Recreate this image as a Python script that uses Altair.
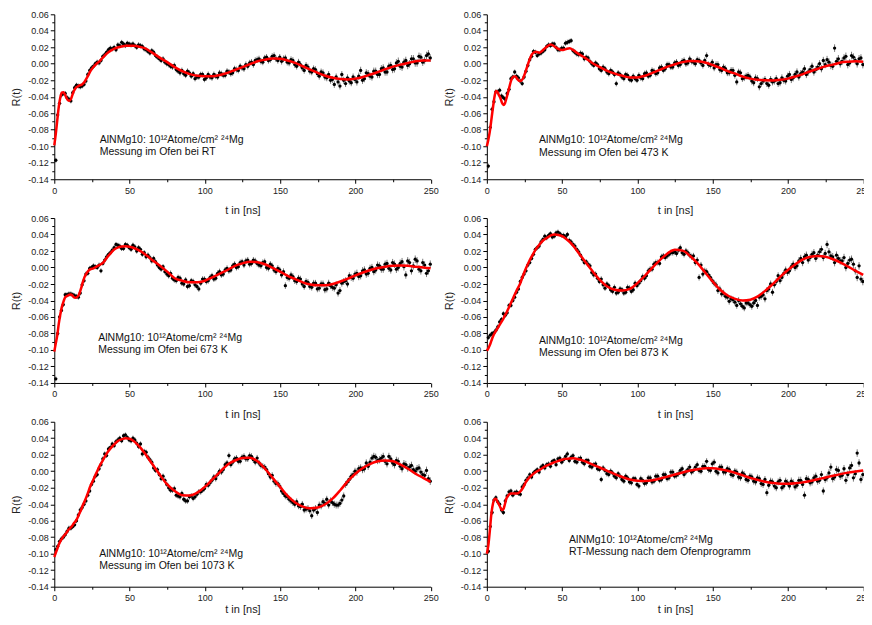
import altair as alt
import pandas as pd

# ---------------- data ----------------
# measurement channels (two interleaved sets of time bins, ns)
T_DATA = [1, 3.5, 6, 8.5, 11, 13.5, 16, 18.5, 21, 23.5,
          26, 28.5, 31, 33.5, 36, 38.5, 41, 43.5, 46, 48.5,
          51, 53.5, 56, 58.5, 61, 63.5, 66, 68.5, 71, 73.5,
          76, 78.5, 81, 83.5, 86, 88.5, 91, 93.5, 96, 98.5,
          101, 103.5, 106, 108.5, 111, 113.5, 116, 118.5, 121, 123.5,
          126, 128.5, 131, 133.5, 136, 138.5, 141, 143.5, 146, 148.5,
          151, 153.5, 156, 158.5, 161, 163.5, 166, 168.5, 171, 173.5,
          176, 178.5, 181, 183.5, 186, 188.5, 191, 193.5, 196, 198.5,
          201, 203.5, 206, 208.5, 211, 213.5, 216, 218.5, 221, 223.5,
          226, 228.5, 231, 233.5, 236, 238.5, 241, 243.5, 246, 248.5]
T_DATA_B = [2.25, 4.75, 7.25, 9.75, 12.25, 14.75, 17.25, 19.75, 22.25, 24.75,
            27.25, 29.75, 32.25, 34.75, 37.25, 39.75, 42.25, 44.75, 47.25, 49.75,
            52.25, 54.75, 57.25, 59.75, 62.25, 64.75, 67.25, 69.75, 72.25, 74.75,
            77.25, 79.75, 82.25, 84.75, 87.25, 89.75, 92.25, 94.75, 97.25, 99.75,
            102.25, 104.75, 107.25, 109.75, 112.25, 114.75, 117.25, 119.75, 122.25, 124.75,
            127.25, 129.75, 132.25, 134.75, 137.25, 139.75, 142.25, 144.75, 147.25, 149.75,
            152.25, 154.75, 157.25, 159.75, 162.25, 164.75, 167.25, 169.75, 172.25, 174.75,
            177.25, 179.75, 182.25, 184.75, 187.25, 189.75, 192.25, 194.75, 197.25, 199.75,
            202.25, 204.75, 207.25, 209.75, 212.25, 214.75, 217.25, 219.75, 222.25, 224.75,
            227.25, 229.75, 232.25, 234.75, 237.25, 239.75, 242.25, 244.75, 247.25, 249.75]

# error bar half-width per 25 ns block
ERR_BLOCK = [0.003, 0.003, 0.0032, 0.0034, 0.0036, 0.0038, 0.004, 0.0042, 0.0044, 0.0046]

T_FIT = [0, 1, 2, 3, 4, 5, 6, 7, 8, 9, 10, 11, 12, 13, 14, 15, 16, 17, 18, 19, 20,
         22, 24, 26, 28, 30,
         32.5, 35, 37.5, 40, 42.5, 45, 47.5, 50, 52.5, 55, 57.5, 60,
         65, 70, 75, 80, 85, 90, 95, 100,
         105, 110, 115, 120, 125, 130, 135, 140, 145, 150,
         155, 160, 165, 170, 175, 180, 185, 190, 195, 200,
         205, 210, 215, 220, 225, 230, 235, 240, 245, 250]

# ---- panel 1: RT ----
DATA_RT = [-0.117, -0.048, -0.036, -0.041, -0.045, -0.029, -0.027, -0.027, -0.021, -0.008,
           -0.003, 0.002, 0.004, 0.011, 0.017, 0.018, 0.017, 0.022, 0.024, 0.025,
           0.023, 0.022, 0.023, 0.021, 0.017, 0.013, 0.014, 0.008, 0.004, 0.002,
           -0.001, -0.004, -0.007, -0.011, -0.012, -0.009, -0.015, -0.018, -0.016, -0.013,
           -0.017, -0.016, -0.013, -0.016, -0.012, -0.014, -0.010, -0.011, -0.007, -0.003,
           -0.006, -0.003, 0.002, 0.004, 0.006, 0.002, 0.008, 0.005, 0.010, 0.004,
           0.003, 0.007, 0.001, 0.004, -0.003, -0.001, -0.008, -0.004, -0.010, -0.007,
           -0.015, -0.011, -0.017, -0.020, -0.025, -0.022, -0.013, -0.024, -0.021, -0.016,
           -0.022, -0.008, -0.018, -0.012, -0.016, -0.009, -0.013, -0.005, -0.010, -0.002,
           -0.006, 0.003, -0.004, 0.004, 0.000, 0.006, 0.001, 0.008, 0.004, 0.012]
DATA_RT_B = [-0.062, -0.038, -0.036, -0.043, -0.035, -0.026, -0.028, -0.025, -0.013, -0.005,
             0.000, 0.001, 0.009, 0.014, 0.019, 0.020, 0.023, 0.026, 0.022, 0.024,
             0.024, 0.020, 0.022, 0.018, 0.015, 0.016, 0.010, 0.006, 0.006, 0.000,
             -0.003, -0.002, -0.009, -0.008, -0.014, -0.011, -0.012, -0.016, -0.013, -0.019,
             -0.013, -0.017, -0.015, -0.011, -0.014, -0.009, -0.012, -0.006, -0.008, -0.005,
             -0.001, 0.001, -0.001, 0.005, 0.003, 0.007, 0.004, 0.009, 0.006, 0.008,
             0.006, 0.002, 0.005, -0.001, 0.002, -0.005, -0.002, -0.009, -0.006, -0.012,
             -0.010, -0.016, -0.013, -0.019, -0.016, -0.027, -0.020, -0.017, -0.023, -0.019,
             -0.015, -0.020, -0.011, -0.015, -0.009, -0.013, -0.006, -0.010, -0.003, -0.007,
             0.001, -0.003, 0.002, -0.002, 0.006, 0.001, 0.009, 0.002, 0.010, 0.007]
FIT_RT = [-0.099, -0.085, -0.068, -0.052, -0.041, -0.035, -0.0345, -0.037, -0.041, -0.044, -0.0448,
          -0.043, -0.038, -0.033, -0.030, -0.028, -0.027, -0.026, -0.0255, -0.024, -0.022,
          -0.016, -0.009, -0.004, 0.000, 0.003,
          0.008, 0.0126, 0.016, 0.0185, 0.020, 0.021, 0.0218, 0.022, 0.022, 0.0213, 0.0202, 0.019,
          0.0135, 0.0075, 0.002, -0.004, -0.009, -0.0125, -0.0145, -0.015,
          -0.015, -0.0135, -0.011, -0.0075, -0.004, -0.0005, 0.003, 0.005, 0.0065, 0.006,
          0.004, 0.001, -0.003, -0.007, -0.011, -0.0145, -0.017, -0.0185, -0.019, -0.018,
          -0.016, -0.013, -0.010, -0.0065, -0.0035, -0.001, 0.001, 0.003, 0.004, 0.004]

# ---- panel 2: 473 K ----
DATA_473 = [-0.124, -0.055, -0.034, -0.032, -0.041, -0.036, -0.018, -0.010, -0.017, -0.024,
            -0.009, 0.005, 0.015, 0.010, 0.013, 0.017, 0.023, 0.024, 0.020, 0.017,
            0.019, 0.026, 0.028, 0.014, 0.011, 0.012, 0.008, 0.003, -0.002, -0.001,
            -0.008, -0.006, -0.012, -0.010, -0.024, -0.013, -0.018, -0.014, -0.020, -0.018,
            -0.014, -0.018, -0.011, -0.014, -0.009, -0.011, -0.004, -0.006, -0.001, -0.004,
            0.002, -0.001, 0.004, 0.001, 0.003, 0.000, 0.004, -0.002, 0.010, -0.002,
            -0.005, -0.001, -0.008, -0.006, -0.011, -0.008, -0.022, -0.011, -0.017, -0.014,
            -0.021, -0.017, -0.028, -0.021, -0.024, -0.019, -0.021, -0.024, -0.017, -0.021,
            -0.013, -0.017, -0.010, -0.012, -0.006, -0.010, -0.003, -0.007, 0.000, 0.004,
            0.005, -0.002, 0.019, 0.006, 0.003, 0.009, 0.001, 0.008, 0.000, 0.007]
DATA_473_B = [-0.077, -0.046, -0.034, -0.039, -0.043, -0.031, -0.016, -0.015, -0.021, -0.016,
              -0.002, 0.009, 0.014, 0.012, 0.015, 0.021, 0.022, 0.024, 0.017, 0.019,
              0.025, 0.027, 0.016, 0.012, 0.013, 0.006, 0.007, 0.000, 0.001, -0.006,
              -0.004, -0.010, -0.008, -0.013, -0.011, -0.016, -0.013, -0.019, -0.015, -0.020,
              -0.017, -0.012, -0.015, -0.008, -0.012, -0.005, -0.008, -0.001, -0.004, 0.001,
              -0.002, 0.003, 0.000, 0.006, 0.002, 0.005, 0.001, 0.004, -0.001, 0.002,
              -0.001, -0.007, -0.004, -0.011, -0.008, -0.014, -0.010, -0.018, -0.015, -0.016,
              -0.023, -0.018, -0.024, -0.019, -0.026, -0.022, -0.018, -0.023, -0.020, -0.015,
              -0.019, -0.013, -0.016, -0.010, -0.013, -0.007, -0.010, -0.004, -0.006, -0.001,
              0.002, -0.003, 0.003, 0.000, 0.007, -0.001, 0.010, 0.004, 0.006, -0.001]
FIT_473 = [-0.100, -0.092, -0.082, -0.068, -0.054, -0.041, -0.033, -0.034, -0.038, -0.0415, -0.047,
           -0.050, -0.048, -0.042, -0.0355, -0.028, -0.021, -0.017, -0.0155, -0.0155, -0.018,
           -0.021, -0.018, -0.008, 0.003, 0.0115,
           0.0145, 0.0135, 0.017, 0.021, 0.0235, 0.021, 0.018, 0.0167, 0.0178, 0.0187, 0.0165, 0.013,
           0.0075, 0.001, -0.004, -0.0085, -0.012, -0.0145, -0.0165, -0.0165,
           -0.0145, -0.011, -0.0075, -0.0035, -0.0005, 0.002, 0.0035, 0.003, 0.0015, -0.0015,
           -0.005, -0.009, -0.012, -0.0155, -0.018, -0.0195, -0.020, -0.0202, -0.0195, -0.018,
           -0.0155, -0.0125, -0.009, -0.006, -0.003, -0.001, 0.0015, 0.0025, 0.003, 0.0025]

# ---- panel 3: 673 K ----
DATA_673 = [-0.135, -0.060, -0.045, -0.033, -0.032, -0.034, -0.036, -0.021, -0.008, -0.001,
            0.002, 0.000, -0.004, 0.009, 0.016, 0.021, 0.028, 0.026, 0.023, 0.027,
            0.022, 0.025, 0.024, 0.016, 0.013, 0.012, 0.011, 0.003, -0.002, -0.005,
            -0.010, -0.013, -0.016, -0.013, -0.020, -0.023, -0.016, -0.021, -0.026, -0.014,
            -0.017, -0.012, -0.014, -0.007, -0.009, -0.003, -0.004, 0.002, 0.000, 0.006,
            0.003, 0.009, 0.005, 0.008, 0.003, 0.006, 0.000, 0.004, -0.003, -0.001,
            -0.009, -0.022, -0.013, -0.011, -0.017, -0.014, -0.023, -0.018, -0.024, -0.019,
            -0.025, -0.020, -0.026, -0.022, -0.025, -0.031, -0.019, -0.016, -0.010, -0.013,
            -0.007, -0.010, -0.003, -0.007, 0.000, -0.003, 0.002, -0.002, 0.005, -0.003,
            0.004, 0.000, 0.007, -0.009, 0.006, 0.002, 0.008, -0.004, 0.003, -0.004]
DATA_673_B = [-0.080, -0.052, -0.033, -0.032, -0.033, -0.035, -0.031, -0.016, -0.007, 0.000,
              0.001, 0.003, 0.005, 0.013, 0.018, 0.024, 0.027, 0.023, 0.028, 0.024,
              0.027, 0.020, 0.022, 0.018, 0.015, 0.008, 0.007, 0.000, 0.001, -0.008,
              -0.007, -0.015, -0.012, -0.019, -0.015, -0.022, -0.017, -0.023, -0.019, -0.014,
              -0.016, -0.010, -0.013, -0.005, -0.008, -0.001, -0.003, 0.004, 0.001, 0.007,
              0.008, 0.004, 0.009, 0.005, 0.002, 0.007, -0.001, 0.002, -0.005, -0.003,
              -0.005, -0.012, -0.009, -0.016, -0.013, -0.020, -0.017, -0.023, -0.019, -0.026,
              -0.020, -0.027, -0.019, -0.024, -0.021, -0.028, -0.017, -0.020, -0.012, -0.008,
              -0.011, -0.004, -0.008, -0.001, -0.005, 0.003, -0.002, 0.004, -0.001, 0.006,
              -0.002, 0.005, 0.001, 0.008, -0.004, 0.010, -0.002, 0.006, -0.007, 0.004]
FIT_673 = [-0.102, -0.092, -0.082, -0.068, -0.057, -0.048, -0.042, -0.037, -0.035, -0.034, -0.033,
           -0.0327, -0.034, -0.036, -0.0367, -0.036, -0.034, -0.030, -0.024, -0.0175, -0.012,
           -0.0055, -0.002, -0.001, 0.001, 0.003,
           0.006, 0.012, 0.0175, 0.022, 0.0245, 0.0255, 0.0257, 0.0252, 0.024, 0.022, 0.0195, 0.0165,
           0.0092, 0.0025, -0.005, -0.013, -0.016, -0.018, -0.018, -0.016,
           -0.012, -0.0075, -0.003, 0.002, 0.005, 0.007, 0.0065, 0.004, -0.0005, -0.005,
           -0.010, -0.014, -0.018, -0.0205, -0.0215, -0.0215, -0.020, -0.017, -0.0135, -0.0095,
           -0.006, -0.003, -0.0005, 0.001, 0.002, 0.0025, 0.002, 0.001, 0.000, -0.001]

# ---- panel 4: 873 K ----
DATA_873 = [-0.085, -0.080, -0.076, -0.066, -0.056, -0.055, -0.046, -0.036, -0.026, -0.012,
            -0.004, 0.006, 0.016, 0.024, 0.031, 0.038, 0.039, 0.037, 0.042, 0.041,
            0.039, 0.040, 0.031, 0.026, 0.019, 0.010, 0.007, 0.002, -0.009, -0.013,
            -0.014, -0.025, -0.022, -0.029, -0.031, -0.026, -0.031, -0.024, -0.029, -0.019,
            -0.019, -0.011, -0.010, -0.002, 0.004, 0.006, 0.013, 0.012, 0.016, 0.018,
            0.017, 0.024, 0.016, 0.018, 0.013, 0.006, -0.012, -0.008, -0.005, -0.012,
            -0.019, -0.028, -0.032, -0.035, -0.041, -0.039, -0.046, -0.044, -0.049, -0.043,
            -0.047, -0.040, -0.036, -0.033, -0.028, -0.020, -0.021, -0.010, -0.012, -0.003,
            -0.004, 0.004, 0.002, 0.011, 0.013, 0.009, 0.016, 0.011, 0.019, 0.012,
            0.028, 0.014, 0.006, 0.011, 0.008, 0.000, 0.009, 0.004, -0.012, -0.014]
DATA_873_B = [-0.082, -0.079, -0.072, -0.063, -0.058, -0.046, -0.040, -0.030, -0.017, -0.008,
              0.003, 0.011, 0.022, 0.026, 0.034, 0.036, 0.041, 0.038, 0.043, 0.039,
              0.037, 0.033, 0.028, 0.022, 0.015, 0.006, 0.004, -0.006, -0.008, -0.017,
              -0.021, -0.020, -0.027, -0.024, -0.030, -0.027, -0.030, -0.025, -0.027, -0.022,
              -0.016, -0.013, -0.004, -0.002, 0.006, 0.005, 0.014, 0.014, 0.018, 0.019,
              0.021, 0.018, 0.020, 0.015, 0.014, 0.009, 0.003, -0.004, -0.009, -0.016,
              -0.021, -0.026, -0.031, -0.036, -0.038, -0.042, -0.040, -0.047, -0.043, -0.045,
              -0.043, -0.046, -0.035, -0.038, -0.026, -0.030, -0.017, -0.016, -0.007, -0.006,
              0.001, 0.000, 0.008, 0.006, 0.015, 0.012, 0.018, 0.015, 0.022, 0.017,
              0.019, 0.013, 0.015, 0.008, 0.012, 0.005, 0.010, -0.004, 0.002, -0.017]
FIT_873 = [-0.101, -0.098, -0.094, -0.089, -0.084, -0.080, -0.077, -0.074, -0.071, -0.068, -0.065,
           -0.062, -0.058, -0.055, -0.051, -0.047, -0.043, -0.039, -0.035, -0.031, -0.027,
           -0.020, -0.010, -0.001, 0.007, 0.014,
           0.022, 0.028, 0.033, 0.036, 0.039, 0.040, 0.0395, 0.038, 0.035, 0.031, 0.026, 0.020,
           0.008, -0.004, -0.015, -0.023, -0.027, -0.028, -0.026, -0.019,
           -0.010, 0.000, 0.009, 0.017, 0.0215, 0.0205, 0.014, 0.005, -0.006, -0.017,
           -0.027, -0.034, -0.038, -0.040, -0.039, -0.035, -0.028, -0.020, -0.011, -0.003,
           0.004, 0.010, 0.013, 0.014, 0.013, 0.010, 0.006, 0.001, -0.004, -0.009]

# ---- panel 5: 1073 K ----
DATA_1073 = [-0.095, -0.085, -0.080, -0.073, -0.069, -0.065, -0.053, -0.044, -0.036, -0.024,
             -0.012, -0.004, 0.008, 0.021, 0.027, 0.033, 0.036, 0.040, 0.043, 0.041,
             0.037, 0.038, 0.030, 0.021, 0.023, 0.014, 0.004, 0.002, -0.009, -0.011,
             -0.020, -0.023, -0.029, -0.031, -0.034, -0.036, -0.030, -0.031, -0.025, -0.023,
             -0.016, -0.014, -0.007, -0.004, -0.001, 0.008, 0.019, 0.011, 0.016, 0.012,
             0.018, 0.015, 0.018, 0.011, 0.010, 0.006, 0.002, -0.007, -0.012, -0.015,
             -0.024, -0.030, -0.034, -0.038, -0.037, -0.043, -0.047, -0.045, -0.054, -0.045,
             -0.041, -0.037, -0.034, -0.036, -0.040, -0.041, -0.035, -0.016, -0.010, -0.004,
             -0.001, 0.004, 0.003, 0.006, 0.016, 0.017, 0.014, 0.018, 0.009, 0.015,
             0.008, 0.012, 0.003, 0.008, 0.005, 0.002, 0.003, -0.001, -0.005, -0.009]
DATA_1073_B = [-0.091, -0.082, -0.077, -0.069, -0.067, -0.060, -0.047, -0.040, -0.029, -0.016,
               -0.006, 0.003, 0.015, 0.019, 0.029, 0.031, 0.038, 0.037, 0.044, 0.038,
               0.040, 0.034, 0.033, 0.024, 0.017, 0.011, 0.001, -0.004, -0.006, -0.016,
               -0.023, -0.021, -0.030, -0.027, -0.036, -0.031, -0.033, -0.028, -0.025, -0.021,
               -0.017, -0.011, -0.009, 0.000, 0.002, 0.010, 0.008, 0.015, 0.012, 0.017,
               0.015, 0.019, 0.014, 0.016, 0.007, 0.005, -0.003, -0.005, -0.015, -0.018,
               -0.027, -0.031, -0.036, -0.040, -0.042, -0.040, -0.046, -0.048, -0.047, -0.050,
               -0.042, -0.039, -0.041, -0.038, -0.041, -0.039, -0.030, -0.013, -0.006, 0.000,
               0.003, 0.002, 0.010, 0.011, 0.018, 0.013, 0.016, 0.012, 0.018, 0.010,
               0.013, 0.006, 0.009, 0.004, 0.007, 0.000, 0.004, -0.004, 0.001, -0.012]
FIT_1073 = [-0.104, -0.099, -0.094, -0.089, -0.085, -0.082, -0.079, -0.077, -0.075, -0.072, -0.070,
            -0.068, -0.066, -0.063, -0.061, -0.058, -0.054, -0.050, -0.046, -0.041, -0.037,
            -0.028, -0.018, -0.010, -0.002, 0.006,
            0.014, 0.022, 0.028, 0.033, 0.037, 0.039, 0.040, 0.0395, 0.037, 0.033, 0.028, 0.022,
            0.009, -0.004, -0.016, -0.024, -0.029, -0.0295, -0.026, -0.019,
            -0.010, -0.001, 0.008, 0.013, 0.016, 0.0165, 0.012, 0.003, -0.008, -0.019,
            -0.030, -0.038, -0.043, -0.045, -0.044, -0.040, -0.033, -0.023, -0.012, -0.003,
            0.004, 0.009, 0.012, 0.013, 0.012, 0.008, 0.003, -0.003, -0.008, -0.013]

# ---- panel 6: RT after furnace programme ----
DATA_RT2 = [-0.097, -0.050, -0.032, -0.040, -0.050, -0.030, -0.024, -0.026, -0.027, -0.019,
            -0.011, -0.004, -0.002, 0.002, 0.005, 0.004, 0.009, 0.012, 0.008, 0.016,
            0.014, 0.021, 0.017, 0.012, 0.015, 0.011, 0.013, 0.006, 0.008, 0.003,
            -0.010, 0.001, -0.004, -0.002, -0.008, -0.006, -0.012, -0.008, -0.014, -0.009,
            -0.018, -0.011, -0.014, -0.008, -0.012, -0.006, -0.010, -0.004, -0.008, -0.001,
            -0.005, 0.001, -0.004, 0.002, -0.001, 0.005, 0.001, 0.006, 0.012, 0.001,
            0.011, -0.002, 0.005, -0.001, 0.002, -0.005, -0.001, -0.008, -0.004, -0.011,
            -0.007, -0.013, -0.009, -0.016, -0.026, -0.012, -0.018, -0.013, -0.020, -0.012,
            -0.018, -0.014, -0.017, -0.011, -0.029, -0.010, -0.013, -0.006, -0.011, -0.024,
            -0.008, 0.005, -0.007, 0.001, -0.005, -0.011, 0.004, -0.008, 0.022, -0.010]
DATA_RT2_B = [-0.067, -0.035, -0.037, -0.047, -0.036, -0.025, -0.029, -0.025, -0.028, -0.016,
              -0.008, -0.007, 0.000, -0.001, 0.007, 0.008, 0.006, 0.013, 0.015, 0.011,
              0.018, 0.013, 0.019, 0.011, 0.016, 0.009, 0.013, 0.005, 0.009, 0.002,
              0.004, -0.003, 0.000, -0.006, -0.003, -0.010, -0.006, -0.013, -0.009, -0.016,
              -0.009, -0.015, -0.008, -0.013, -0.006, -0.011, -0.004, -0.009, -0.001, -0.006,
              -0.003, 0.003, -0.001, 0.005, 0.001, 0.008, 0.000, 0.006, 0.002, 0.009,
              0.000, 0.005, -0.001, 0.003, -0.004, 0.000, -0.007, -0.002, -0.010, -0.006,
              -0.012, -0.008, -0.015, -0.010, -0.017, -0.013, -0.020, -0.011, -0.018, -0.014,
              -0.012, -0.019, -0.011, -0.016, -0.009, -0.014, -0.008, -0.012, -0.004, -0.010,
              -0.002, -0.009, 0.002, -0.006, 0.003, -0.004, 0.007, -0.003, 0.010, -0.004]
FIT_RT2 = [-0.100, -0.090, -0.072, -0.052, -0.040, -0.034, -0.0335, -0.037, -0.040, -0.044, -0.047,
           -0.046, -0.040, -0.033, -0.030, -0.028, -0.027, -0.027, -0.027, -0.027, -0.027,
           -0.025, -0.020, -0.013, -0.008, -0.0045,
           -0.001, 0.0015, 0.0045, 0.007, 0.009, 0.011, 0.0125, 0.014, 0.015, 0.0155, 0.0156, 0.0148,
           0.0123, 0.0082, 0.0045, 0.0005, -0.0035, -0.007, -0.010, -0.0115,
           -0.0118, -0.011, -0.009, -0.0065, -0.004, -0.0015, 0.001, 0.0025, 0.0035, 0.0035,
           0.0025, 0.0005, -0.002, -0.005, -0.008, -0.0105, -0.0128, -0.0143, -0.0152, -0.0153,
           -0.0147, -0.0135, -0.0118, -0.0098, -0.0075, -0.0055, -0.0035, -0.0017, -0.0003, 0.001]

LINE1 = "AlNMg10: 10¹²Atome/cm² ²⁴Mg"
LINE2 = ["Messung im Ofen bei RT", "Messung im Ofen bei 473 K",
         "Messung im Ofen bei 673 K", "Messung im Ofen bei 873 K",
         "Messung im Ofen bei 1073 K", "RT-Messung nach dem Ofenprogramm"]

X_MAJOR = [0, 50, 100, 150, 200, 250]
X_MINOR = [25, 75, 125, 175, 225]
Y_MAJOR = [-0.14, -0.12, -0.10, -0.08, -0.06, -0.04, -0.02, 0.0, 0.02, 0.04, 0.06]
Y_MINOR = [-0.13, -0.11, -0.09, -0.07, -0.05, -0.03, -0.01, 0.01, 0.03, 0.05]

# (data A, data B, fit, second label line, label x, label y, bottom row?)
PANELS = [
    (DATA_RT, DATA_RT_B, FIT_RT, LINE2[0], 45.5, 128.5, False),
    (DATA_473, DATA_473_B, FIT_473, LINE2[1], 52.3, 129, False),
    (DATA_673, DATA_673_B, FIT_673, LINE2[2], 44, 123, False),
    (DATA_873, DATA_873_B, FIT_873, LINE2[3], 52.3, 126, False),
    (DATA_1073, DATA_1073_B, FIT_1073, LINE2[4], 45, 135, True),
    (DATA_RT2, DATA_RT2_B, FIT_RT2, LINE2[5], 82.3, 121, True),
]

FONT = "Liberation Sans"
W, H = 376.5, 165

xs = alt.Scale(domain=[0, 250], nice=False, zero=False)
ys = alt.Scale(domain=[-0.14, 0.06], nice=False, zero=False)

LABEL_EXPR = "replace(format(datum.value, '.2f'), '\u2212', '-')"


def panel(data_a, data_b, fit, line2, tx, ty, bottom):
    errs = [ERR_BLOCK[i // 10] for i in range(len(T_DATA))]
    df = pd.DataFrame({
        "t": T_DATA + T_DATA_B,
        "R": data_a + data_b,
        "err": errs + errs,
    })
    df["lo"] = df["R"] - df["err"]
    df["hi"] = df["R"] + df["err"]
    fdf = pd.DataFrame({"t": T_FIT, "R": fit})

    err = alt.Chart(df).mark_rule(color="#7a7a7a", strokeWidth=1).encode(
        x=alt.X("t:Q", scale=xs, axis=None),
        y=alt.Y("lo:Q", scale=ys, axis=None),
        y2="hi:Q",
    )
    pts = alt.Chart(df).mark_circle(size=11, color="black", opacity=1).encode(
        x=alt.X("t:Q", scale=xs, axis=alt.Axis(
            values=X_MAJOR, format="d", title="t in [ns]", orient="bottom",
            tickSize=4, labelPadding=3, titlePadding=0.5 if bottom else 9.5,
            labelFlush=False, grid=False)),
        y=alt.Y("R:Q", scale=ys, axis=alt.Axis(
            values=Y_MAJOR, labelExpr=LABEL_EXPR, title="R(t)", orient="left",
            tickSize=4, labelPadding=2, titlePadding=6, grid=False)),
    )
    line = alt.Chart(fdf).mark_line(color="#ff0000", strokeWidth=2.5, interpolate="monotone").encode(
        x=alt.X("t:Q", scale=xs, axis=alt.Axis(
            values=X_MINOR, labels=False, title=None, domain=False, orient="bottom",
            tickSize=2.5, grid=False)),
        y=alt.Y("R:Q", scale=ys, axis=alt.Axis(
            values=Y_MINOR, labels=False, title=None, domain=False, orient="left",
            tickSize=2.5, grid=False)),
    )
    one = pd.DataFrame({"k": [0]})
    t1 = alt.Chart(one).mark_text(align="left", baseline="alphabetic", font=FONT,
                                  fontSize=10.5, color="#111").encode(
        x=alt.value(tx), y=alt.value(ty), text=alt.value(LINE1))
    t2 = alt.Chart(one).mark_text(align="left", baseline="alphabetic", font=FONT,
                                  fontSize=10.5, color="#111").encode(
        x=alt.value(tx), y=alt.value(ty + 12.5), text=alt.value(line2))
    return alt.layer(err, pts, line, t1, t2).properties(width=W, height=H).resolve_axis(
        x="independent", y="independent")


charts = [panel(*p) for p in PANELS]

chart = alt.concat(*charts, columns=2, spacing={"row": 38.8, "column": 55.7},
                   bounds="flush").configure(
    padding={"left": 2.3, "top": 2.2, "right": -7, "bottom": 1.5}
).configure_view(stroke=None).configure_axis(
    labelFont=FONT, titleFont=FONT, labelFontSize=9, titleFontSize=11,
    titleFontWeight="normal", labelColor="#222", titleColor="#222",
    domainColor="black", tickColor="black", domainWidth=1, tickWidth=1,
)

chart.save("out.html", embed_options={"renderer": "svg", "actions": False})
